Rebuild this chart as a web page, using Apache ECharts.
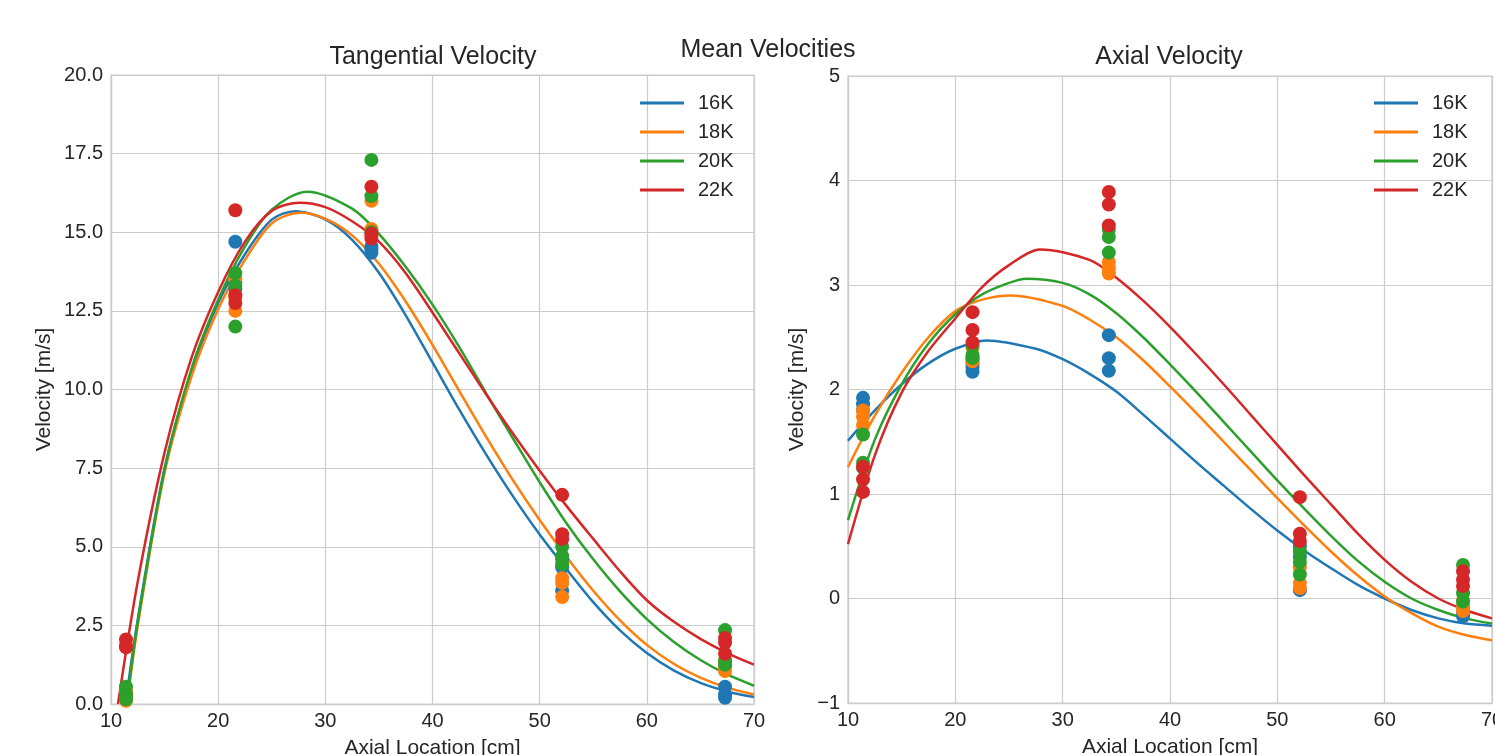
<!DOCTYPE html>
<html>
<head>
<meta charset="utf-8">
<title>Mean Velocities</title>
<script src="https://cdn.jsdelivr.net/npm/echarts@6/dist/echarts.min.js"></script>
<style>
    html, body { margin: 0; padding: 0; background: #fff; }
    #chart { width: 1495px; height: 755px; }
</style>
</head>
<body>
<div id="chart"></div>
<script>
// measurement stations along the axis [cm]
const locations = [11.4, 21.6, 34.3, 52.1, 67.3]
const runs = ['16K', '18K', '20K', '22K']
const colors = ['#1f77b4', '#ff7f0e', '#2ca02c', '#d62728']

// tangential velocity samples [m/s], one list per station
const tanDots16 = [[0.15, 0.25, 0.35], [14.7, 13.4, 13.2], [14.55, 14.45, 14.35], [4.6, 4.35, 3.6], [0.55, 0.3, 0.2]]
const tanDots18 = [[0.1, 0.2, 0.4], [13.5, 12.9, 12.5], [16.0, 15.1, 14.9], [4.0, 3.85, 3.4], [1.35, 1.2, 1.05]]
const tanDots20 = [[0.55, 0.3, 0.15], [13.7, 13.3, 12.0], [17.3, 16.15, 15.0], [5.0, 4.7, 4.45], [2.35, 1.4, 1.25]]
const tanDots22 = [[2.05, 1.85, 1.8], [15.7, 13.0, 12.75], [16.45, 14.95, 14.8], [6.65, 5.4, 5.25], [2.1, 1.95, 1.6]]

// axial velocity samples [m/s]
const axDots16 = [[1.92, 1.86, 1.8], [2.25, 2.21, 2.17], [2.52, 2.3, 2.18], [0.5, 0.4, 0.08], [-0.08, -0.13, -0.17]]
const axDots18 = [[1.8, 1.74, 1.66], [2.4, 2.3, 2.27], [3.22, 3.16, 3.11], [0.3, 0.15, 0.1], [-0.02, -0.08, -0.12]]
const axDots20 = [[1.57, 1.3, 1.25], [2.42, 2.33, 2.3], [3.53, 3.46, 3.31], [0.45, 0.35, 0.23], [0.32, 0.05, -0.03]]
const axDots22 = [[1.26, 1.14, 1.02], [2.74, 2.57, 2.45], [3.89, 3.77, 3.57], [0.97, 0.62, 0.55], [0.26, 0.18, 0.12]]

// fitted curves, [x, v] (peak points included)
const tanFit16 = [[11.35, 0], [12.5, 2.7], [15, 7.5], [17.5, 10.55], [20, 12.75], [22.5, 14.3], [25, 15.4], [27.2, 15.67], [30, 15.41], [32.5, 14.76], [35, 13.71], [37.5, 12.36], [40, 10.86], [42.5, 9.36], [45, 7.94], [47.5, 6.61], [50, 5.39], [52.5, 4.29], [55, 3.24], [57.5, 2.34], [60, 1.62], [62.5, 1.07], [65, 0.67], [67.5, 0.4], [70, 0.22]]
const tanFit18 = [[11.5, 0], [12.5, 2.5], [15, 7.35], [17.5, 10.4], [20, 12.55], [22.5, 14.12], [25, 15.28], [27.7, 15.62], [30, 15.43], [32.5, 14.9], [35, 14.0], [37.5, 12.8], [40, 11.42], [42.5, 9.95], [45, 8.5], [47.5, 7.12], [50, 5.85], [52.5, 4.68], [55, 3.6], [57.5, 2.66], [60, 1.88], [62.5, 1.28], [65, 0.84], [67.5, 0.52], [70, 0.3]]
const tanFit20 = [[11.45, 0], [12.5, 2.6], [15, 7.45], [17.5, 10.65], [20, 12.85], [22.5, 14.55], [25, 15.72], [28.3, 16.29], [32.5, 15.75], [35, 14.95], [37.5, 13.9], [40, 12.7], [42.5, 11.35], [45, 9.88], [47.5, 8.45], [50, 7.05], [52.5, 5.75], [55, 4.6], [57.5, 3.58], [60, 2.7], [62.5, 1.98], [65, 1.4], [67.5, 0.94], [70, 0.58]]
const tanFit22 = [[10.65, 0], [12.5, 3.9], [15, 8.0], [17.5, 11.0], [20, 13.1], [22.5, 14.7], [25, 15.68], [27.6, 15.94], [30, 15.8], [32.5, 15.35], [35, 14.7], [37.5, 13.7], [40, 12.45], [42.5, 11.15], [45, 9.85], [47.5, 8.6], [50, 7.42], [52.5, 6.3], [55, 5.25], [57.5, 4.22], [60, 3.3], [62.5, 2.62], [65, 2.07], [67.5, 1.62], [70, 1.25]]

const axFit16 = [[10, 1.51], [12.5, 1.8], [15, 2.05], [17.5, 2.25], [20, 2.39], [22.9, 2.47], [27.5, 2.39], [30, 2.29], [32.5, 2.15], [35, 1.98], [37.5, 1.76], [40, 1.53], [42.5, 1.3], [45, 1.08], [47.5, 0.86], [50, 0.65], [52.5, 0.46], [55, 0.29], [57.5, 0.13], [60, 0.0], [62.5, -0.11], [65, -0.19], [67.5, -0.24], [70, -0.26]]
const axFit18 = [[10, 1.26], [12.5, 1.75], [15, 2.16], [17.5, 2.5], [20, 2.75], [22.5, 2.86], [25.2, 2.9], [30, 2.8], [32.5, 2.67], [35, 2.5], [37.5, 2.28], [40, 2.03], [42.5, 1.77], [45, 1.5], [47.5, 1.23], [50, 0.96], [52.5, 0.7], [55, 0.45], [57.5, 0.22], [60, 0.02], [62.5, -0.14], [65, -0.27], [67.5, -0.35], [70, -0.4]]
const axFit20 = [[10, 0.75], [12.5, 1.52], [15, 2.05], [17.5, 2.44], [20, 2.72], [22.5, 2.91], [25, 3.02], [26.6, 3.06], [30, 3.02], [32.5, 2.91], [35, 2.73], [37.5, 2.5], [40, 2.24], [42.5, 1.97], [45, 1.69], [47.5, 1.41], [50, 1.13], [52.5, 0.86], [55, 0.6], [57.5, 0.36], [60, 0.16], [62.5, 0.0], [65, -0.11], [67.5, -0.19], [70, -0.24]]
const axFit22 = [[10, 0.52], [12.5, 1.37], [15, 1.97], [17.5, 2.37], [20, 2.68], [22.5, 2.98], [25, 3.19], [27.9, 3.34], [32.5, 3.24], [35, 3.07], [37.5, 2.85], [40, 2.6], [42.5, 2.33], [45, 2.05], [47.5, 1.76], [50, 1.47], [52.5, 1.18], [55, 0.9], [57.5, 0.62], [60, 0.37], [62.5, 0.16], [65, 0.0], [67.5, -0.11], [70, -0.19]]

const tanDots = [tanDots16, tanDots18, tanDots20, tanDots22]
const axDots = [axDots16, axDots18, axDots20, axDots22]
const tanFits = [tanFit16, tanFit18, tanFit20, tanFit22]
const axFits = [axFit16, axFit18, axFit20, axFit22]

const textColor = '#262626'
const gridColor = '#cccccc'
const font = 'Liberation Sans, Arial, sans-serif'

// flatten per-station lists into [x, v] points
const toPoints = (dots) => {
    let pts = []
    locations.forEach((x, i) => {
        dots[i].forEach((v) => pts.push([x, v]))
    })
    return pts
}

const xAxisFor = (gridIndex) => ({
    type: 'value',
    gridIndex: gridIndex,
    min: 10,
    max: 70,
    interval: 10,
    name: 'Axial Location [cm]',
    nameLocation: 'middle',
    nameGap: 34,
    nameTextStyle: { color: textColor, fontSize: 21, fontFamily: font },
    axisLine: { show: true, onZero: false, lineStyle: { color: gridColor, width: 1.25 } },
    axisTick: { show: false },
    axisLabel: { color: textColor, fontSize: 20, fontFamily: font, margin: 7 },
    splitLine: { show: true, lineStyle: { color: gridColor, width: 1.2 } },
})

const yAxisFor = (gridIndex, min, max, interval, nameGap, fmt) => ({
    type: 'value',
    gridIndex: gridIndex,
    min: min,
    max: max,
    interval: interval,
    name: 'Velocity [m/s]',
    nameLocation: 'middle',
    nameGap: nameGap,
    nameTextStyle: { color: textColor, fontSize: 21, fontFamily: font },
    axisLine: { show: true, onZero: false, lineStyle: { color: gridColor, width: 1.25 } },
    axisTick: { show: false },
    axisLabel: { color: textColor, fontSize: 20, fontFamily: font, margin: 8, formatter: fmt },
    splitLine: { show: true, lineStyle: { color: gridColor, width: 1.2 } },
})

const legendFor = (left) => ({
    data: runs,
    left: left,
    top: 93,
    padding: 0,
    orient: 'vertical',
    icon: 'rect',
    itemWidth: 44,
    itemHeight: 3,
    itemGap: 9,
    selectedMode: false,
    textStyle: { color: textColor, fontSize: 20, fontFamily: font, lineHeight: 20, padding: [0, 0, 0, 9] },
})

let series = []
// curves first, dots drawn over them
;[tanFits, axFits].forEach((fits, g) => {
    fits.forEach((fit, i) => {
        series.push({
            name: runs[i],
            type: 'line',
            xAxisIndex: g,
            yAxisIndex: g,
            data: fit,
            smooth: 0.3,
            showSymbol: false,
            lineStyle: { color: colors[i], width: 2.5 },
            itemStyle: { color: colors[i] },
            z: 2,
        })
    })
})
;[tanDots, axDots].forEach((set, g) => {
    set.forEach((dots, i) => {
        series.push({
            name: runs[i],
            type: 'scatter',
            xAxisIndex: g,
            yAxisIndex: g,
            data: toPoints(dots),
            symbolSize: 14,
            itemStyle: { color: colors[i], opacity: 1 },
            z: 3,
        })
    })
})

const dom = document.querySelector('#chart')
let myChart = echarts.init(dom)
let option = {
    animation: false,
    backgroundColor: '#ffffff',
    title: [
        { text: 'Mean Velocities', left: 768, top: 38, textAlign: 'center', padding: 0,
          textStyle: { color: textColor, fontSize: 25, fontWeight: 'normal', fontFamily: font } },
        { text: 'Tangential Velocity', left: 433, top: 45, textAlign: 'center', padding: 0,
          textStyle: { color: textColor, fontSize: 25, fontWeight: 'normal', fontFamily: font } },
        { text: 'Axial Velocity', left: 1169, top: 45, textAlign: 'center', padding: 0,
          textStyle: { color: textColor, fontSize: 25, fontWeight: 'normal', fontFamily: font } },
    ],
    legend: [legendFor(640), legendFor(1374)],
    grid: [
        { left: 111, top: 75, width: 643, height: 629, show: true, borderColor: gridColor, borderWidth: 1.25,
          containLabel: false, outerBoundsMode: 'none' },
        { left: 848, top: 76, width: 644, height: 627, show: true, borderColor: gridColor, borderWidth: 1.25,
          containLabel: false, outerBoundsMode: 'none' },
    ],
    xAxis: [xAxisFor(0), xAxisFor(1)],
    yAxis: [
        yAxisFor(0, 0, 20, 2.5, 56, (v) => v.toFixed(1)),
        yAxisFor(1, -1, 5, 1, 40, (v) => String(v).replace('-', '\u2212')),
    ],
    series: series,
}
myChart.setOption(option)
</script>
</body>
</html>
